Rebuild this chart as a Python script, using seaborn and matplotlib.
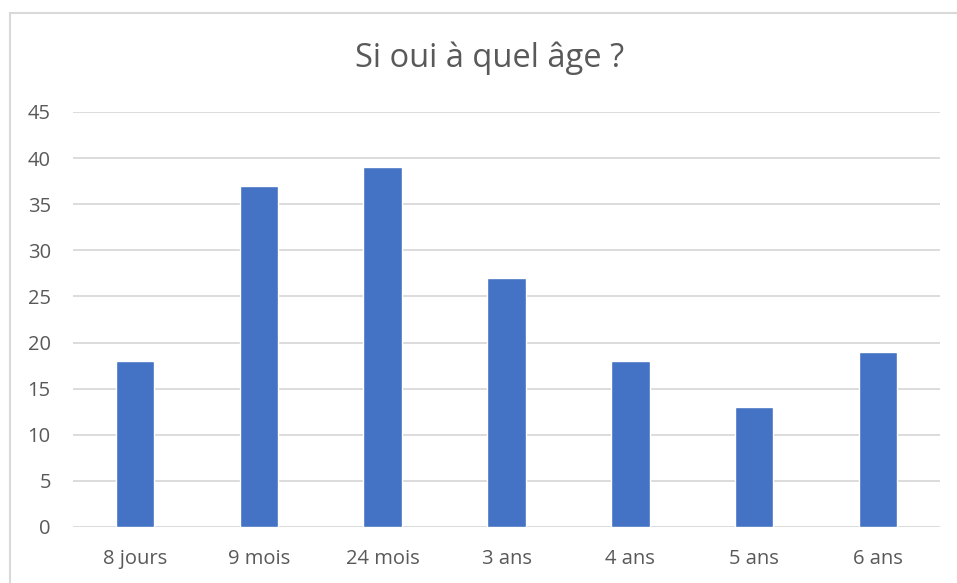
import matplotlib
matplotlib.use("Agg")
import matplotlib.pyplot as plt
import seaborn as sns
import pandas as pd
from matplotlib.lines import Line2D

categories = ["8 jours", "9 mois", "24 mois", "3 ans", "4 ans", "5 ans", "6 ans"]
values = [18, 37, 39, 27, 18, 13, 19]
yticks = [0, 5, 10, 15, 20, 25, 30, 35, 40, 45]

df = pd.DataFrame({"age": categories, "count": values})

sns.set_style("white")
plt.rcParams["font.family"] = ["Open Sans", "DejaVu Sans"]

fig = plt.figure(figsize=(9.57, 5.83), dpi=100)
W, H = 957, 583
ax = fig.add_axes([73 / W, 1 - 527 / H, (940 - 73) / W, (527 - 112) / H])

sns.barplot(data=df, x="age", y="count", color="#4472c4", width=0.31,
            saturation=1, ax=ax, zorder=3)

ax.set_ylim(0, 45)
ax.set_yticks(yticks)
ax.set_xlim(-0.5, len(categories) - 0.5)
ax.yaxis.grid(True, color="#d9d9d9", linewidth=1.3, zorder=0)
ax.set_axisbelow(True)
for s in ax.spines.values():
    s.set_visible(False)
ax.tick_params(axis="both", length=0, labelsize=14.5, colors="#595959")
ax.tick_params(axis="y", pad=16)
ax.tick_params(axis="x", pad=16)
ax.set_xlabel("")
ax.set_ylabel("")

fig.text(490 / W, 1 - 58 / H, "Si oui à quel âge ?", ha="center", va="center",
         fontsize=23.5, color="#595959")

# outer chart border (left and top)
fig.add_artist(Line2D([9.5 / W, 9.5 / W], [0, 1 - 13 / H], color="#d9d9d9",
                      linewidth=1.5, transform=fig.transFigure))
fig.add_artist(Line2D([9.5 / W, 1], [1 - 13 / H, 1 - 13 / H], color="#d9d9d9",
                      linewidth=1.5, transform=fig.transFigure))

fig.savefig("out.png", dpi=100, facecolor="white")
